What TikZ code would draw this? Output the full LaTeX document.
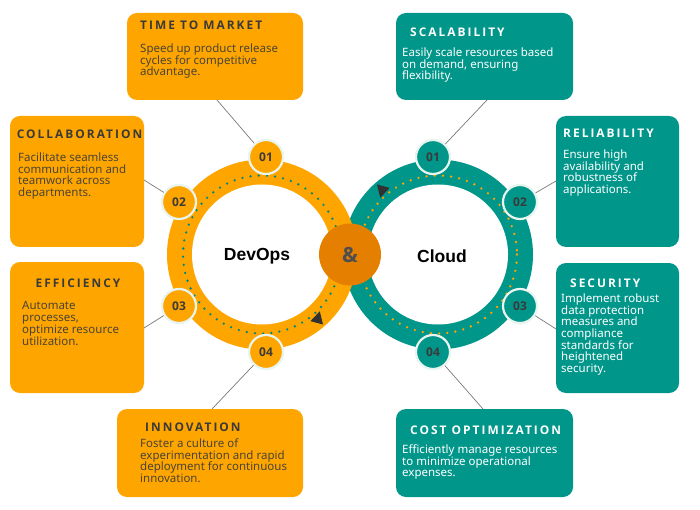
\documentclass[tikz,border=0pt]{standalone}
\usepackage{fontspec}
\setmainfont{Noto Sans}
\newfontfamily\titlefont[LetterSpace=17]{Open Sans Bold}
\newfontfamily\numfont{Open Sans Bold}
\newfontfamily\bigfont{Liberation Sans}
\definecolor{org}{HTML}{FFA500}
\definecolor{tl}{HTML}{00968A}
\definecolor{amp}{HTML}{E57F00}
\definecolor{rim}{HTML}{E8F5EE}
\definecolor{dk}{HTML}{3A3A3A}
\definecolor{bodyd}{HTML}{4A4535}
\definecolor{conn}{HTML}{7A7A7A}
\begin{document}
\begin{tikzpicture}[x=1pt,y=-1pt,
  card/.style={rounded corners=10pt, draw=none},
  ocard/.style={card, fill=org},
  tcard/.style={card, fill=tl},
  ttl/.style={anchor=base west, inner sep=0, font=\titlefont\fontsize{11.9}{12}\selectfont},
  otl/.style={ttl, text=dk},
  ttlw/.style={ttl, text=white},
  bod/.style={anchor=north west, inner sep=0, align=left, font=\fontsize{11.5}{11.7}\selectfont},
  obod/.style={bod, text=bodyd},
  tbod/.style={bod, text=white},
  num/.style={circle, minimum size=34pt, inner sep=0, draw=rim, line width=2.2pt, text=dk, font=\numfont\fontsize{12}{12}\selectfont},
  onum/.style={num, fill=org},
  tnum/.style={num, fill=tl},
  lnk/.style={draw=conn, line width=0.7pt},
  tri/.style={fill=dk!85!black}
]
\useasboundingbox (0,0) rectangle (700,510);
\fill[white] (0,0) rectangle (700,510);

% cards
\path[ocard] (127,13) rectangle (303,100);
\node[inner sep=0] (ttm) at (215,56.5) {};
\path[ocard] (10,116) rectangle (144,247);
\node[inner sep=0] (col) at (77,181.5) {};
\path[ocard] (10,262) rectangle (144,393);
\node[inner sep=0] (eff) at (77,327.5) {};
\path[ocard] (117,409) rectangle (303,497);
\node[inner sep=0] (inn) at (210,453) {};
\path[tcard] (396,13) rectangle (573,100);
\node[inner sep=0] (sca) at (484.5,56.5) {};
\path[tcard] (556,116) rectangle (679,247);
\node[inner sep=0] (rel) at (617.5,181.5) {};
\path[tcard] (556,263) rectangle (679,393);
\node[inner sep=0] (sec) at (617.5,328) {};
\path[tcard] (396,409) rectangle (573,497);
\node[inner sep=0] (cst) at (484.5,453) {};

% titles and bodies
\node[otl] (ttmT) at (140,30) {TIME TO MARKET};
\node[obod] (ttmB) at (140,43.5) {Speed up product release\\cycles for competitive\\advantage.};
\node[otl, anchor=base] (colT) at (79.5,139) {COLLABORATION};
\node[obod] (colB) at (18,152.5) {Facilitate seamless\\communication and\\teamwork across\\departments.};
\node[otl, anchor=base] (effT) at (78,287) {EFFICIENCY};
\node[obod] (effB) at (22,301.5) {Automate\\processes,\\optimize resource\\utilization.};
\node[otl] (innT) at (145,431) {INNOVATION};
\node[obod] (innB) at (140,438.5) {Foster a culture of\\experimentation and rapid\\deployment for continuous\\innovation.};
\node[ttlw] (scaT) at (410,37) {SCALABILITY};
\node[tbod] (scaB) at (402,47.5) {Easily scale resources based\\on demand, ensuring\\flexibility.};
\node[ttlw] (relT) at (563,138) {RELIABILITY};
\node[tbod] (relB) at (563,149.5) {Ensure high\\availability and\\robustness of\\applications.};
\node[ttlw] (secT) at (570,287) {SECURITY};
\node[tbod] (secB) at (561,293.5) {Implement robust\\data protection\\measures and\\compliance\\standards for\\heightened\\security.};
\node[ttlw] (cstT) at (410,434) {COST OPTIMIZATION};
\node[tbod] (cstB) at (402,444.5) {Efficiently manage resources\\to minimize operational\\expenses.};

% rings
\coordinate (dv) at (262,254.5);
\coordinate (cl) at (438,254.5);
\fill[tl] (cl) circle (95);
\fill[org] (dv) circle (95);
\fill[white] (cl) circle (70);
\fill[white] (dv) circle (70);
\draw[tl!90!black, line width=2.6pt, line cap=round, dash pattern=on 0pt off 8.2pt] (dv) circle (79);
\draw[org, line width=2.6pt, line cap=round, dash pattern=on 0pt off 8.2pt] (cl) circle (79);

% arrowheads
\fill[tri, shift={(318,318)}, rotate=75] (7,0) -- (-5,6.5) -- (-5,-6.5) -- cycle;
\fill[tri, shift={(382,191)}, rotate=-105] (7,0) -- (-5,6.5) -- (-5,-6.5) -- cycle;

% centre
\node[circle, fill=amp, minimum size=62pt, inner sep=0, text=dk!90, font=\numfont\fontsize{21}{21}\selectfont] (and) at (350,254.5) {\&};
\node[font=\bigfont\bfseries\fontsize{17.5}{17.5}\selectfont, text=black] (dvt) at (257,256) {DevOps};
\node[font=\bigfont\bfseries\fontsize{17.5}{17.5}\selectfont, text=black] (clt) at (442,256) {Cloud};

% connector end points
\coordinate (k1) at (217,100);
\coordinate (k2) at (144,180);
\coordinate (k3) at (144,328);
\coordinate (k4) at (212,409);
\coordinate (k5) at (487,100);
\coordinate (k6) at (556,181);
\coordinate (k7) at (556,329);
\coordinate (k8) at (483,409);

% number circles
\node[onum] (d1) at (266,157) {01};
\node[onum] (d2) at (179,202) {02};
\node[onum] (d3) at (179,306) {03};
\node[onum] (d4) at (266,352) {04};
\node[tnum] (c1) at (433,157) {01};
\node[tnum] (c2) at (520,202) {02};
\node[tnum] (c3) at (520,306) {03};
\node[tnum] (c4) at (433,352) {04};

\draw[lnk] (d1) -- (k1);
\draw[lnk] (d2) -- (k2);
\draw[lnk] (d3) -- (k3);
\draw[lnk] (d4) -- (k4);
\draw[lnk] (c1) -- (k5);
\draw[lnk] (c2) -- (k6);
\draw[lnk] (c3) -- (k7);
\draw[lnk] (c4) -- (k8);
\end{tikzpicture}
\end{document}
